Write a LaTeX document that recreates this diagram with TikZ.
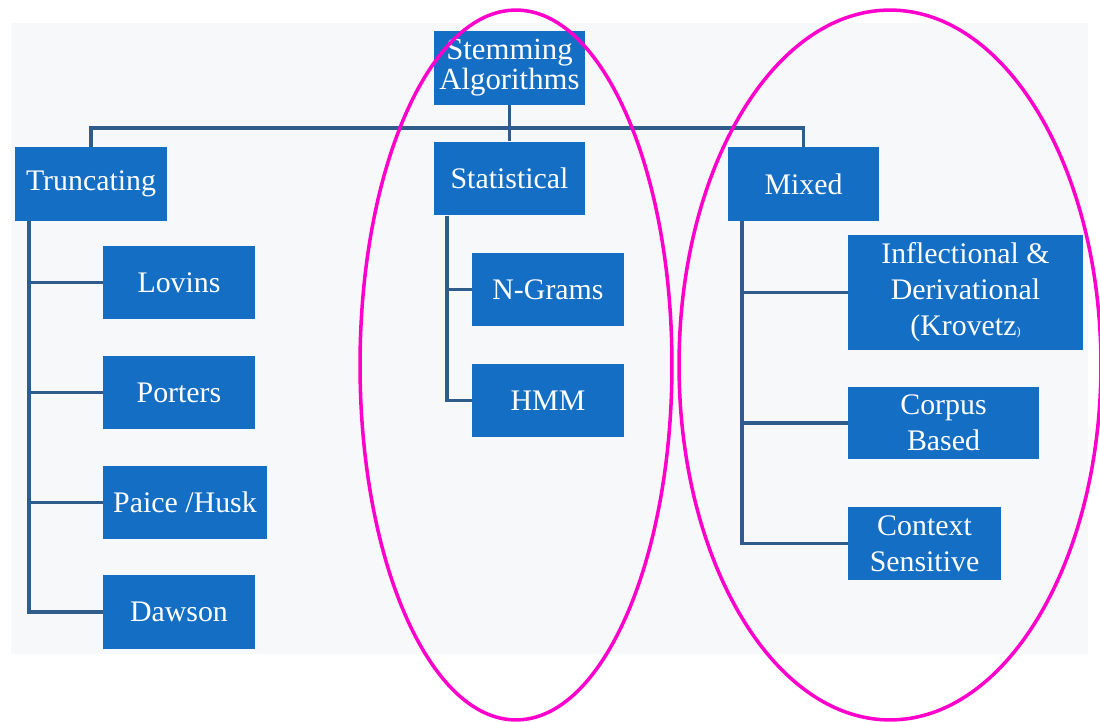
\documentclass[tikz,border=0pt]{standalone}
\usepackage{fontspec}
\setmainfont{Liberation Serif}
\definecolor{boxblue}{RGB}{20,110,195}
\definecolor{linkblue}{RGB}{48,92,140}
\definecolor{bgray}{RGB}{247,248,250}
\definecolor{ringpink}{RGB}{255,0,204}

\begin{document}
\begin{tikzpicture}[x=0.02cm, y=-0.02cm, font=\fontsize{17}{20.4}\selectfont,
	algo/.style={fill=boxblue, text=white, inner sep=0pt, align=center, minimum width=3.04cm, minimum height=1.47cm},
	link/.style={draw=linkblue, line width=1.8pt},
	ring/.style={draw=ringpink, line width=2pt}]
	\useasboundingbox (0,0) rectangle (1100,722);
	\fill[bgray] (11,23) rectangle (1088,654);
	% top levels
	\node[algo, font=\fontsize{17.5}{15.5}\selectfont] (root) at (509.5,68) {Stemming\\Algorithms};
	\node[algo] (trunc) at (91,184) {Truncating};
	\node[algo] (stat) at (509.5,178.5) {Statistical};
	\node[algo] (mixed) at (803.5,184) {Mixed};
	\coordinate (bus) at (509.5,128);
	\draw[link] (trunc.north) |- (bus) -| (mixed.north);
	\draw[link] (root.south) -- (stat.north);
	% truncating
	\node[algo] (lovins) at (179,282.5) {Lovins};
	\node[algo] (porters) at (179,392.5) {Porters};
	\node[algo, minimum width=3.28cm] (paice) at (185,502.5) {Paice /Husk};
	\node[algo] (dawson) at (179,612) {Dawson};
	\coordinate (tbar) at ([xshift=-1.24cm]trunc.south);
	\draw[link] (tbar) |- (lovins.west);
	\draw[link] (tbar) |- (porters.west);
	\draw[link] (tbar) |- (paice.west);
	\draw[link] (tbar) |- (dawson.west);
	% statistical
	\node[algo] (ngrams) at (548,289.5) {N-Grams};
	\node[algo] (hmm) at (548,400.5) {HMM};
	\coordinate (sbar) at ([xshift=-1.25cm]stat.south);
	\draw[link] (sbar) |- (ngrams.west);
	\draw[link] (sbar) |- (hmm.west);
	% mixed
	\node[algo, minimum width=4.7cm, minimum height=2.3cm] (infl) at (965.5,292.5) {Inflectional \&\\Derivational\\(Krovetz{\scriptsize)}};
	\node[algo, minimum width=3.82cm, minimum height=1.44cm] (corpus) at (943.5,423) {Corpus\\Based};
	\node[algo, minimum width=3.06cm, minimum height=1.46cm] (context) at (924.5,543.5) {Context\\Sensitive};
	\coordinate (mbar) at ([xshift=-1.23cm]mixed.south);
	\draw[link] (mbar) |- (infl.west);
	\draw[link] (mbar) |- (corpus.west);
	\draw[link] (mbar) |- (context.west);
	% rings
	\draw[ring] (516,365) ellipse [x radius=3.12cm, y radius=7.1cm];
	\draw[ring] (890,365) ellipse [x radius=4.22cm, y radius=7.1cm];
\end{tikzpicture}
\end{document}
